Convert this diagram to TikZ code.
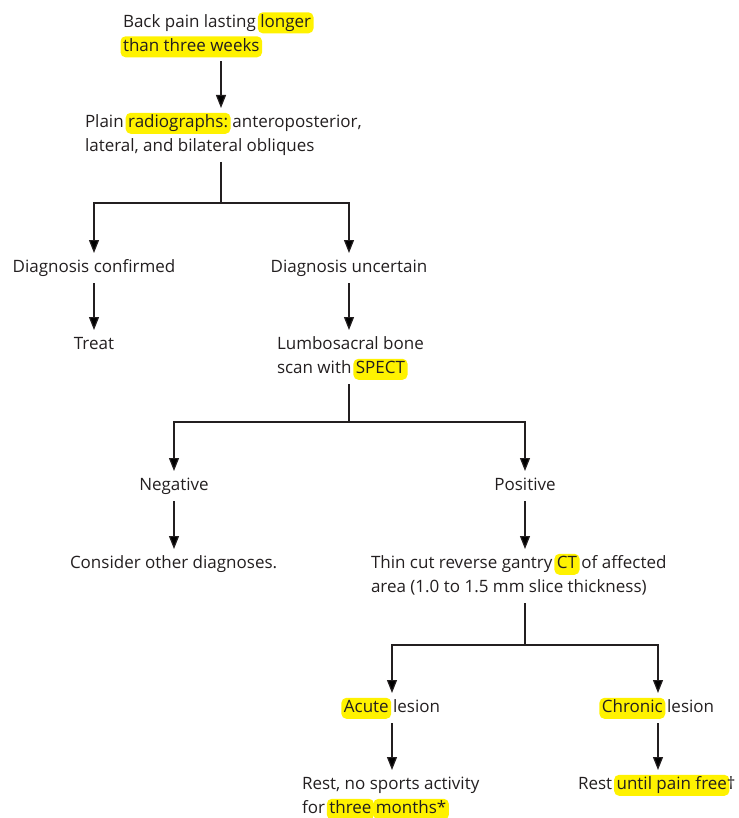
\documentclass[tikz,border=0pt]{standalone}
\usepackage{fontspec}
\setmainfont{Open Sans}
\usetikzlibrary{arrows.meta}
\definecolor{ink}{HTML}{231F20}
\definecolor{hly}{HTML}{FFF200}
\newcommand\hl[1]{\hspace{-2.5pt}\tikz[baseline=(hlbox.base)]\node[fill=hly,rounded corners=5pt,inner xsep=2.5pt,inner ysep=2.5pt,text height=12.5pt,text depth=3.5pt,outer sep=0pt](hlbox){#1};\hspace{-2.5pt}}
\begin{document}
\begin{tikzpicture}[x=1pt,y=-1pt,
  txt/.style={inner sep=0pt, outer sep=3pt, text=ink, font=\fontsize{17}{24}\selectfont, align=left},
  arr/.style={draw=ink, line width=1.2pt, -{Triangle[length=13pt,width=10pt]}},
  ln/.style={draw=ink, line width=1.2pt}]
\useasboundingbox (0,0) rectangle (738,818);

\node[txt,anchor=west] (back) at (120,34.5) {\strut Back pain lasting \hl{longer}\\\hl{than three weeks}\strut};
\node[txt,anchor=west] (plain) at (82,135) {\strut Plain \hl{radiographs:} anteroposterior,\\lateral, and bilateral obliques\strut};
\node[txt] (dconf) at (94,268) {\strut Diagnosis confirmed};
\node[txt] (dunc) at (349,268) {\strut Diagnosis uncertain};
\node[txt] (treat) at (94,345) {\strut Treat};
\node[txt,anchor=west] (lumbo) at (274,357) {\strut Lumbosacral bone\\scan with \hl{SPECT}\strut};
\node[txt] (neg) at (174,486) {\strut Negative};
\node[txt] (pos) at (525,486) {\strut Positive};
\node[txt,anchor=west] (consider) at (67,564) {\strut Consider other diagnoses.};
\node[txt,anchor=west] (thin) at (368,576) {\strut Thin cut reverse gantry \hl{CT} of affected\\area (1.0 to 1.5 mm slice thickness)\strut};
\node[txt] (acute) at (392,708) {\strut \hl{Acute} lesion};
\node[txt] (chronic) at (658,708) {\strut \hl{Chronic} lesion};
\node[txt,anchor=west] (rest1) at (299,797) {\strut Rest, no sports activity\\for \hl{three} \hl{months*}\strut};
\node[txt,anchor=west] (rest2) at (575,785) {\strut Rest \hl{until pain free}†};

\coordinate (j1) at (221,203);
\coordinate (j2) at (349,422);
\coordinate (j3) at (525,645);

\draw[arr] (back.south -| j1) -- (plain.north -| j1);
\draw[ln] (plain.south -| j1) -- (j1);
\draw[arr] (j1) -| (dconf.north);
\draw[arr] (j1) -| (dunc.north);
\draw[arr] (dconf.south) -- (treat.north);
\draw[arr] (dunc.south) -- (lumbo.north -| dunc.south);
\draw[ln] (lumbo.south -| j2) -- (j2);
\draw[arr] (j2) -| (neg.north);
\draw[arr] (j2) -| (pos.north);
\draw[arr] (neg.south) -- (consider.north -| neg.south);
\draw[arr] (pos.south) -- (thin.north -| pos.south);
\draw[ln] (thin.south -| j3) -- (j3);
\draw[arr] (j3) -| (acute.north);
\draw[arr] (j3) -| (chronic.north);
\draw[arr] (acute.south) -- (rest1.north -| acute.south);
\draw[arr] (chronic.south) -- (rest2.north -| chronic.south);
\end{tikzpicture}
\end{document}
